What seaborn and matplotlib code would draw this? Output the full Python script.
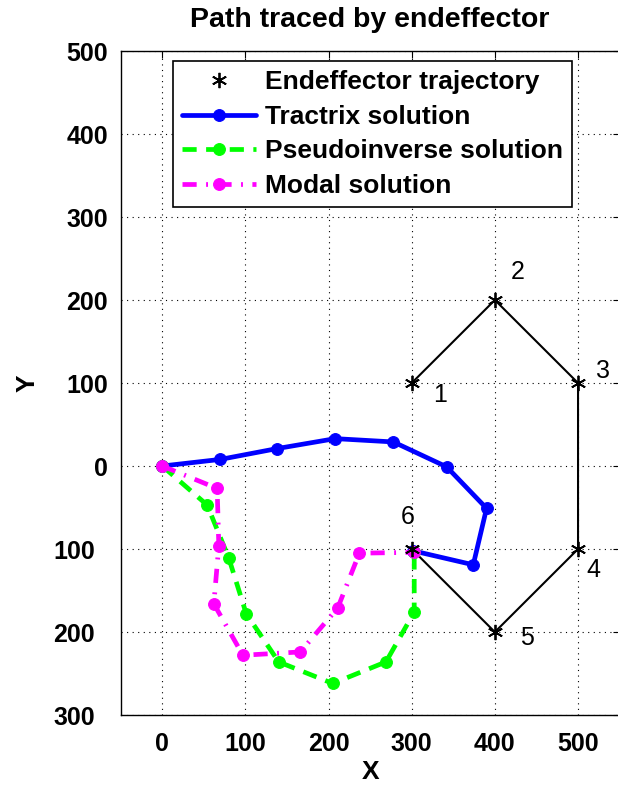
import matplotlib
matplotlib.use("Agg")
import matplotlib.pyplot as plt
import matplotlib.transforms as mtransforms
import seaborn as sns
import pandas as pd

# ---- data ----
traj_x = [300, 400, 500, 500, 400, 300]
traj_y = [100, 200, 100, -100, -200, -100]
point_labels = ["1", "2", "3", "4", "5", "6"]

tractrix_x = [0, 70, 138, 208, 278, 342, 390, 374, 301]
tractrix_y = [0, 8, 21, 33, 29, -1, -51, -119, -102]

pseudo_x = [0, 54, 80, 101, 140, 205, 269, 303, 303]
pseudo_y = [0, -47, -111, -178, -236, -262, -236, -176, -104]

modal_x = [0, 66, 68, 62, 97, 166, 211, 237, 303]
modal_y = [0, -27, -96, -166, -228, -224, -171, -105, -104]

xticks = [0, 100, 200, 300, 400, 500]
yticks = [-300, -200, -100, 0, 100, 200, 300, 400, 500]
ytick_labels = ["300", "200", "100", "0", "100", "200", "300", "400", "500"]

sns.set_style("white")
plt.rcParams["font.family"] = ["Liberation Sans", "DejaVu Sans"]
plt.rcParams["text.color"] = "black"
plt.rcParams["axes.labelcolor"] = "black"
plt.rcParams["xtick.color"] = "black"
plt.rcParams["ytick.color"] = "black"

fig = plt.figure(figsize=(6.18, 7.86), dpi=100)
ax = fig.add_axes([0.1953, 0.0903, 0.8073, 0.8448])

traj = pd.DataFrame({"x": traj_x, "y": traj_y})
tr = pd.DataFrame({"x": tractrix_x, "y": tractrix_y})
ps = pd.DataFrame({"x": pseudo_x, "y": pseudo_y})
mo = pd.DataFrame({"x": modal_x, "y": modal_y})

# trajectory line (no legend)
sns.lineplot(data=traj, x="x", y="y", sort=False, estimator=None, color="black",
             lw=1.5, ax=ax, legend=False, zorder=3)
# trajectory markers
sns.lineplot(data=traj, x="x", y="y", sort=False, estimator=None, color="black",
             linestyle="none", marker=(6, 2, 0), markersize=11, markeredgewidth=1.3,
             markeredgecolor="black", ax=ax, label="Endeffector trajectory", zorder=6)

sns.lineplot(data=tr, x="x", y="y", sort=False, estimator=None, color="#0000ff",
             lw=3.4, marker="o", markersize=8.5, markeredgecolor="#0000ff",
             ax=ax, label="Tractrix solution", zorder=4)
sns.lineplot(data=ps, x="x", y="y", sort=False, estimator=None, color="#00ff00",
             lw=3.4, linestyle=(0, (3, 2)), marker="o", markersize=8.5,
             markeredgecolor="#00ff00", ax=ax, label="Pseudoinverse solution", zorder=4)
sns.lineplot(data=mo, x="x", y="y", sort=False, estimator=None, color="#ff00ff",
             lw=3.4, linestyle=(0, (3, 2, 0.4, 2)), marker="o", markersize=8.5,
             markeredgecolor="#ff00ff", ax=ax, label="Modal solution", zorder=5)

label_offsets = [(34, -15), (27, 34), (30, 14), (18, -25), (38, -7), (-5, 39)]
for lab, px, py, (dx, dy) in zip(point_labels, traj_x, traj_y, label_offsets):
    ax.text(px + dx, py + dy, lab, fontsize=18, ha="center", va="center",
            color="black", zorder=7)

ax.set_xlim(-50, 550)
ax.set_ylim(-300, 500)
ax.set_xticks(xticks)
ax.set_xticklabels([str(v) for v in xticks])
ax.set_yticks(yticks)
ax.set_yticklabels(ytick_labels)
for t in ax.get_xticklabels() + ax.get_yticklabels():
    t.set_fontweight("bold")
    t.set_fontsize(18)
ax.tick_params(direction="in", length=5, width=0.8, top=True, right=True,
               color="black", labelcolor="black")
ax.tick_params(axis="x", pad=12)
ax.tick_params(axis="y", pad=9)
shift = mtransforms.ScaledTranslation(-0.13, 0, fig.dpi_scale_trans)
for val, t in zip(yticks, ax.get_yticklabels()):
    if val < 0:
        t.set_transform(t.get_transform() + shift)

ax.grid(True, color="black", linestyle=(0, (1, 4)), linewidth=0.8)
for sp in ax.spines.values():
    sp.set_color("black")
    sp.set_linewidth(1.0)

ax.set_xlabel("X", fontsize=19, fontweight="bold", labelpad=3, color="black")
ax.set_ylabel("Y", fontsize=19, fontweight="bold", labelpad=10, color="black")
ax.set_title("Path traced by endeffector", fontsize=20.5, fontweight="bold", pad=17,
             color="black")

leg = ax.legend(loc="upper center", bbox_to_anchor=(0.505, 0.985), prop={"weight": "bold", "size": 19},
                frameon=True, fancybox=False, edgecolor="black", framealpha=1,
                handlelength=2.8, handletextpad=0.35, borderpad=0.35, borderaxespad=0,
                labelspacing=0.4)
leg.get_frame().set_linewidth(1.2)
for t in leg.get_texts():
    t.set_color("black")

fig.savefig("out.png", dpi=100)
